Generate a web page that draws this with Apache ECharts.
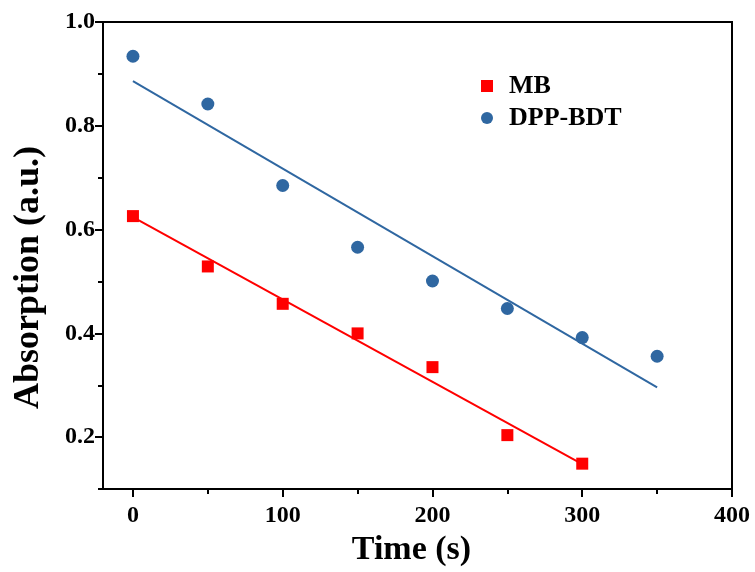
<!DOCTYPE html>
<html>
<head>
<meta charset="utf-8">
<script src="https://cdn.jsdelivr.net/npm/echarts@6/dist/echarts.min.js"></script>
<style>html,body{margin:0;padding:0;background:#fff}#c{width:755px;height:572px}</style>
</head>
<body>
<div id="c"></div>
<script>
const timeMB = [0, 50, 100, 150, 200, 250, 300];
const absMB = [0.626, 0.529, 0.457, 0.400, 0.335, 0.204, 0.149];
const timeDPP = [0, 50, 100, 150, 200, 250, 300, 350];
const absDPP = [0.934, 0.842, 0.685, 0.566, 0.501, 0.448, 0.392, 0.356];
const fitMBx = [0, 300];
const fitMBy = [0.624, 0.148];
const fitDPPx = [0, 350];
const fitDPPy = [0.886, 0.296];
const xMajor = [0, 100, 200, 300, 400];
const xMinor = [50, 150, 250, 350];
const yMajor = [0.2, 0.4, 0.6, 0.8, 1.0];
const yMinor = [0.1, 0.3, 0.5, 0.7, 0.9];

const RED = '#ff0000';
const BLUE = '#2f67a1';
const FONT = "'Liberation Serif','Times New Roman',serif";
const zip = (xs, ys) => xs.map((x, i) => [x, ys[i]]);

const chart = echarts.init(document.getElementById('c'));
chart.setOption({
  animation: false,
  grid: { left: 103, right: 23, top: 22, bottom: 76, show: true, borderColor: '#000', borderWidth: 2, containLabel: false },
  legend: {
    data: [{ name: 'MB', icon: 'rect' }, { name: 'DPP-BDT', icon: 'circle' }],
    orient: 'vertical', left: 476, top: 68, itemWidth: 12, itemHeight: 12, itemGap: 6,
    textStyle: { fontFamily: FONT, fontWeight: 'bold', fontSize: 26, color: '#000', padding: [0, 0, 0, 11] }
  },
  xAxis: [{
    type: 'value', min: -20, max: 400,
    name: 'Time (s)', nameLocation: 'middle', nameGap: 36,
    nameTextStyle: { fontFamily: FONT, fontWeight: 'bold', fontSize: 34, color: '#000', padding: [0, 12, 0, 0] },
    axisLine: { show: true, onZero: false, lineStyle: { color: '#000', width: 2 } },
    axisTick: { show: true, length: 8, customValues: xMajor, lineStyle: { color: '#000', width: 2 } },
    axisLabel: { customValues: xMajor, fontFamily: FONT, fontWeight: 'bold', fontSize: 24, color: '#000', margin: 15 },
    splitLine: { show: false }
  }, {
    type: 'value', min: -20, max: 400, position: 'bottom',
    axisLine: { show: false, onZero: false },
    axisTick: { show: true, length: 5, customValues: xMinor, lineStyle: { color: '#000', width: 2 } },
    axisLabel: { show: false }, splitLine: { show: false }
  }],
  yAxis: [{
    type: 'value', min: 0.1, max: 1.0,
    name: 'Absorption (a.u.)', nameLocation: 'middle', nameGap: 56,
    nameTextStyle: { fontFamily: FONT, fontWeight: 'bold', fontSize: 36, color: '#000', padding: [0, 44, 0, 0] },
    axisLine: { show: true, onZero: false, lineStyle: { color: '#000', width: 2 } },
    axisTick: { show: true, length: 8, customValues: yMajor, lineStyle: { color: '#000', width: 2 } },
    axisLabel: { customValues: yMajor, formatter: v => v.toFixed(1), fontFamily: FONT, fontWeight: 'bold', fontSize: 24, color: '#000', margin: 8 },
    splitLine: { show: false }
  }, {
    type: 'value', min: 0.1, max: 1.0, position: 'left',
    axisLine: { show: false, onZero: false },
    axisTick: { show: true, length: 5, customValues: yMinor, lineStyle: { color: '#000', width: 2 } },
    axisLabel: { show: false }, splitLine: { show: false }
  }],
  series: [
    { name: 'MB fit', type: 'line', data: zip(fitMBx, fitMBy), symbol: 'none', lineStyle: { color: RED, width: 2 }, z: 2 },
    { name: 'DPP-BDT fit', type: 'line', data: zip(fitDPPx, fitDPPy), symbol: 'none', lineStyle: { color: BLUE, width: 2 }, z: 2 },
    { name: 'MB', type: 'scatter', data: zip(timeMB, absMB), symbol: 'rect', symbolSize: 12, itemStyle: { color: RED, opacity: 1 }, z: 3 },
    { name: 'DPP-BDT', type: 'scatter', data: zip(timeDPP, absDPP), symbol: 'circle', symbolSize: 13, itemStyle: { color: BLUE, opacity: 1 }, z: 3 }
  ]
});
</script>
</body>
</html>
